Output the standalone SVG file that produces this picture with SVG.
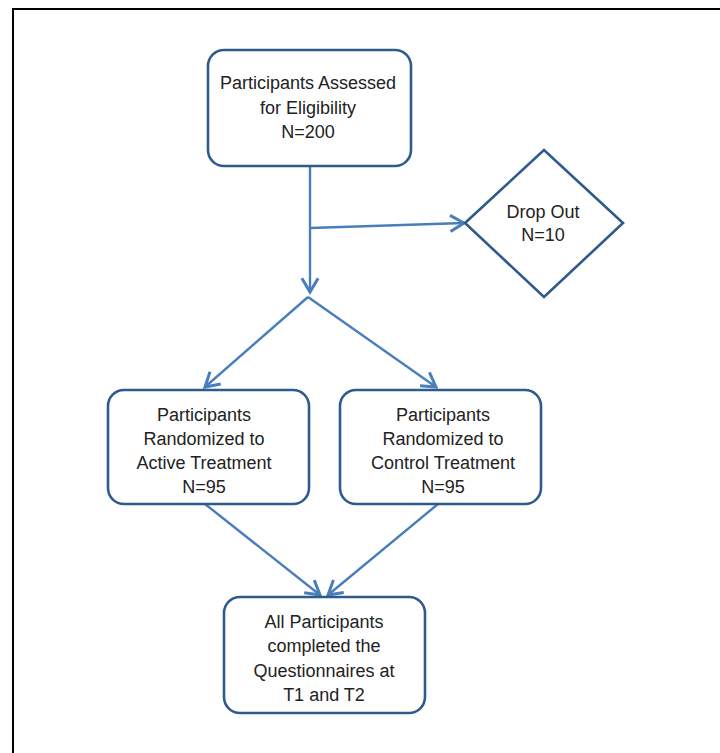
<svg xmlns="http://www.w3.org/2000/svg" width="720" height="753" viewBox="0 0 720 753">
<defs>
<style>
.box{fill:#fff;stroke:#2f5b8c;stroke-width:2.6}
.conn{fill:none;stroke:#4a7ebb;stroke-width:2.4}
.t{font-family:"Liberation Sans",Arial,sans-serif;font-size:18px;fill:#222;text-anchor:middle}
</style>
<marker id="arr" markerUnits="userSpaceOnUse" markerWidth="20" markerHeight="20" viewBox="-14 -8 16 16" refX="0" refY="0" orient="auto">
<polyline points="-11,-6.5 0,0 -11,6.5" fill="none" stroke="#4a7ebb" stroke-width="2.4"/>
</marker>
</defs>
<rect width="720" height="753" fill="#fff"/>
<polyline points="13,753 13,9 720,9" fill="none" stroke="#000" stroke-width="2"/>
<g id="connectors">
<line class="conn" x1="310" y1="166" x2="310" y2="292" marker-end="url(#arr)"/>
<line class="conn" x1="310" y1="228" x2="464" y2="223" marker-end="url(#arr)"/>
<line class="conn" x1="308" y1="297" x2="205" y2="387" marker-end="url(#arr)"/>
<line class="conn" x1="308" y1="297" x2="436" y2="387" marker-end="url(#arr)"/>
<line class="conn" x1="205" y1="504" x2="320" y2="595" marker-end="url(#arr)"/>
<line class="conn" x1="438" y1="504" x2="328" y2="595" marker-end="url(#arr)"/>
</g>
<g id="assessed">
<rect class="box" x="208" y="50" width="203" height="116" rx="16"/>
<text class="t" x="308" y="89">Participants Assessed</text>
<text class="t" x="308" y="114">for Eligibility</text>
<text class="t" x="308" y="138">N=200</text>
</g>
<g id="dropout">
<polygon class="box" points="465,223 544,150 623,223 544,297"/>
<text class="t" x="543" y="218">Drop Out</text>
<text class="t" x="543" y="241">N=10</text>
</g>
<g id="active">
<rect class="box" x="108" y="390" width="201" height="114" rx="16"/>
<text class="t" x="204" y="421">Participants</text>
<text class="t" x="204" y="445">Randomized to</text>
<text class="t" x="204" y="469">Active Treatment</text>
<text class="t" x="204" y="493">N=95</text>
</g>
<g id="control">
<rect class="box" x="340" y="390" width="201" height="114" rx="16"/>
<text class="t" x="443" y="421">Participants</text>
<text class="t" x="443" y="445">Randomized to</text>
<text class="t" x="443" y="469">Control Treatment</text>
<text class="t" x="443" y="493">N=95</text>
</g>
<g id="completed">
<rect class="box" x="224" y="597" width="201" height="116" rx="16"/>
<text class="t" x="324" y="628">All Participants</text>
<text class="t" x="324" y="652">completed the</text>
<text class="t" x="324" y="677">Questionnaires at</text>
<text class="t" x="324" y="701">T1 and T2</text>
</g>
</svg>
